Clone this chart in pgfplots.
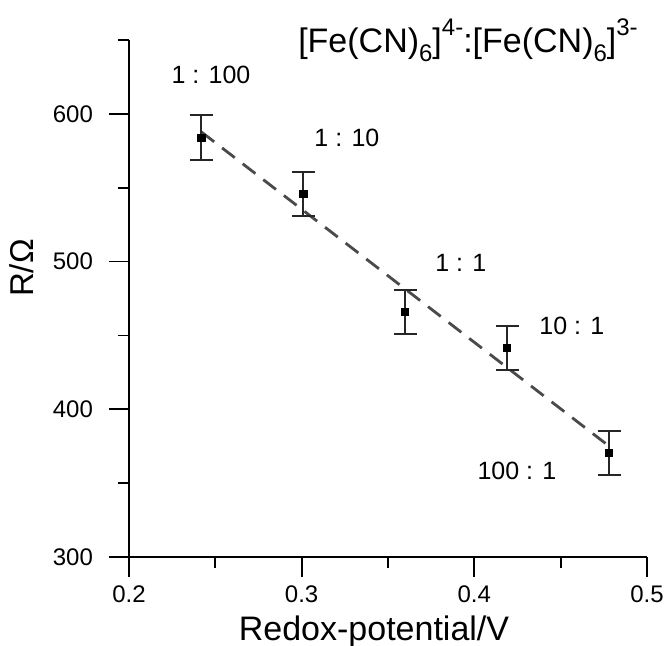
\documentclass[border=0pt]{standalone}
\usepackage{fontspec}
\setmainfont{Liberation Sans}
\usepackage{pgfplots}
\pgfplotsset{compat=1.18}
\usepackage{pgfplotstable}

% resistance vs redox potential
\pgfplotstableread{
x     y      err
0.242 584.0  15
0.301 545.6  15
0.360 466.0  15
0.419 441.5  15
0.478 370.4  15
}\resdata

\definecolor{fitgray}{HTML}{4A4A4A}

\begin{document}
\begin{tikzpicture}
\begin{axis}[
  scale only axis,
  width=259pt, height=258.5pt,
  xmin=0.2, xmax=0.5,
  ymin=300, ymax=650,
  axis lines=left,
  axis line style={-, line width=0.9pt},
  tick style={line width=0.9pt, black},
  tick align=outside,
  major tick length=10pt,
  minor tick length=5.5pt,
  xtick={0.2,0.3,0.4,0.5},
  xticklabels={0.2,0.3,0.4,0.5},
  ytick={300,400,500,600},
  minor xtick={0.25,0.35,0.45},
  minor ytick={350,450,550,650},
  tick label style={font=\fontsize{12}{14}\selectfont},
  xticklabel shift=1pt,
  yticklabel shift=4.5pt,
  /pgf/number format/assume math mode=true,
  clip=false,
]
  % page corners of the reference
  \coordinate (bbsw) at (rel axis cs:-0.249,-0.172);
  \coordinate (bbne) at (rel axis cs:1.0367,1.0774);

  % linear fit
  \addplot[fitgray, line width=1.4pt, dash pattern=on 8pt off 5pt] coordinates {
    (0.242,587.7) (0.476,376.9)
  };

  % measured points with error bars
  \addplot[only marks, mark=square*, mark size=1.8pt, black,
    error bars/.cd, y dir=both, y explicit, error mark=|,
    error bar style={line width=1pt, black!85},
    error mark options={line width=1pt, black!85, mark size=5.75pt}]
    table[x=x, y=y, y error=err] {\resdata};

  % ratio labels
  \begin{scope}[every node/.style={font=\fontsize{12.5}{15}\selectfont}]
    \node at (axis cs:0.2475,626.3) {1 : 100};
    \node at (axis cs:0.3262,583.7) {1 : 10};
    \node at (axis cs:0.3922,499.0) {1 : 1};
    \node at (axis cs:0.4565,456.4) {10 : 1};
    \node at (axis cs:0.4247,358.2) {100 : 1};
  \end{scope}

  % title
  \node[anchor=base west, inner sep=0pt, font=\fontsize{17}{20}\selectfont]
    at (rel axis cs:0.326,0.975)
    {[Fe(CN)\raisebox{-4.5pt}{\fontsize{12}{14}\selectfont 6}]\raisebox{8.5pt}{\fontsize{12}{14}\selectfont 4-}:[Fe(CN)\raisebox{-4.5pt}{\fontsize{12}{14}\selectfont 6}]\raisebox{8.5pt}{\fontsize{12}{14}\selectfont 3-}};

  % axis labels
  \node[anchor=base, inner sep=0pt, font=\fontsize{17}{20}\selectfont]
    at (rel axis cs:0.473,-0.1605) {Redox-potential/V};
  \node[rotate=90, inner sep=0pt, font=\fontsize{16.5}{20}\selectfont]
    at (rel axis cs:-0.2066,0.559) {R/Ω};
\end{axis}
\pgfresetboundingbox
\useasboundingbox (bbsw) rectangle (bbne);
\end{tikzpicture}
\end{document}
